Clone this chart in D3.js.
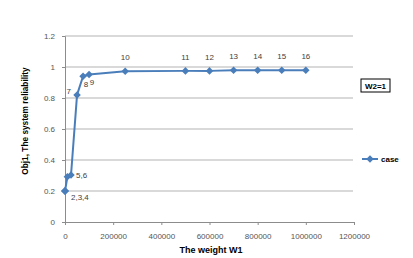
<!DOCTYPE html>
<html>
<head>
<meta charset="utf-8">
<script src="https://cdn.jsdelivr.net/npm/d3@7"></script>
<style>
  body { margin: 0; background: #fff; }
  text { font-family: "Liberation Sans", Arial, sans-serif; }
</style>
</head>
<body>
<div id="chart"></div>
<script>
// values
var weights = [0, 1, 10, 100, 10000, 25000, 50000, 75000, 100000, 250000, 500000, 600000, 700000, 800000, 900000, 1000000];
var reliability = [0.2, 0.2, 0.2, 0.2, 0.292, 0.303, 0.82, 0.94, 0.952, 0.972, 0.975, 0.975, 0.979, 0.979, 0.979, 0.979];
var pointLabels = ["", "2,3,4", "", "", "", "5,6", "7", "8", "9", "10", "11", "12", "13", "14", "15", "16"];
var labelSpots = ["", "belowRight", "", "", "", "right", "left", "below", "below", "above", "above", "above", "above", "above", "above", "above"];
var xTicks = [0, 200000, 400000, 600000, 800000, 1000000, 1200000];
var yTicks = [0, 0.2, 0.4, 0.6, 0.8, 1, 1.2];
var seriesName = "case";
var boxText = "W2=1";

var svg = d3.select("#chart").append("svg")
  .attr("width", 413)
  .attr("height", 258);

var x = d3.scaleLinear().domain([0, 1200000]).range([65, 354]);
var y = d3.scaleLinear().domain([0, 1.2]).range([222, 36]);
var blue = "#4a7ebb";

// gridlines
svg.append("g").selectAll("line").data(yTicks.filter(function(d){ return d > 0; }))
  .enter().append("line")
  .attr("x1", 65).attr("x2", 353)
  .attr("y1", function(d){ return y(d); })
  .attr("y2", function(d){ return y(d); })
  .attr("stroke", "#b3b3b3").attr("stroke-width", 1);

// axes
var xAxis = svg.append("g").attr("transform", "translate(0,222)")
  .call(d3.axisBottom(x).tickValues(xTicks).tickFormat(d3.format("d")).tickSize(3).tickPadding(8));
var yAxis = svg.append("g").attr("transform", "translate(65,0)")
  .call(d3.axisLeft(y).tickValues(yTicks).tickFormat(function(d){ return d; }).tickSize(3).tickPadding(7));

[xAxis, yAxis].forEach(function(a){
  a.select(".domain").attr("stroke", "#8c8c8c");
  a.selectAll(".tick line").attr("stroke", "#8c8c8c");
  a.selectAll("text").attr("fill", "#555").style("font-size", "8px")
    .style("font-family", "'Liberation Sans', Arial, sans-serif");
});

// the series
var pts = weights.map(function(w, i){ return {x: w, y: reliability[i], label: pointLabels[i], spot: labelSpots[i]}; });

svg.append("path").datum(pts)
  .attr("fill", "none").attr("stroke", blue).attr("stroke-width", 2)
  .attr("stroke-linejoin", "round")
  .attr("d", d3.line().x(function(d){ return x(d.x); }).y(function(d){ return y(d.y); }));

var diamond = d3.symbol().type(d3.symbolDiamond2).size(36);
svg.append("g").selectAll("path").data(pts).enter().append("path")
  .attr("d", diamond)
  .attr("transform", function(d){ return "translate(" + x(d.x) + "," + y(d.y) + ")"; })
  .attr("fill", blue);

// point labels
var offs = {
  above: [0, -11, "middle"],
  below: [3, 11, "middle"],
  left: [-6, -1, "end"],
  right: [5, 3, "start"],
  belowRight: [6, 9, "start"]
};
svg.append("g").selectAll("text").data(pts.filter(function(d){ return d.label; }))
  .enter().append("text")
  .attr("x", function(d){ return x(d.x) + offs[d.spot][0]; })
  .attr("y", function(d){ return y(d.y) + offs[d.spot][1]; })
  .attr("text-anchor", function(d){ return offs[d.spot][2]; })
  .attr("font-size", 8).attr("fill", "#404040")
  .text(function(d){ return d.label; });

// axis titles
svg.append("text")
  .attr("x", 211).attr("y", 253)
  .attr("text-anchor", "middle").attr("font-size", 9).attr("font-weight", "bold")
  .text("The weight W1");

svg.append("text")
  .attr("transform", "translate(28,121) rotate(-90)")
  .attr("text-anchor", "middle").attr("font-size", 8.3).attr("font-weight", "bold")
  .text("Obj1, The system reliability");

// W2 box
svg.append("rect").attr("x", 361).attr("y", 79).attr("width", 29).attr("height", 13)
  .attr("fill", "#fff").attr("stroke", "#000").attr("stroke-width", 1);
svg.append("text").attr("x", 375.5).attr("y", 88.5)
  .attr("text-anchor", "middle").attr("font-size", 8).attr("font-weight", "bold")
  .text(boxText);

// legend
var lg = svg.append("g").attr("transform", "translate(362,159)");
lg.append("line").attr("x1", 0).attr("x2", 16).attr("stroke", blue).attr("stroke-width", 2);
lg.append("path").attr("d", diamond).attr("transform", "translate(8,0)").attr("fill", blue);
lg.append("text").attr("x", 19).attr("y", 3).attr("font-size", 8).attr("font-weight", "bold")
  .text(seriesName);
</script>
</body>
</html>
